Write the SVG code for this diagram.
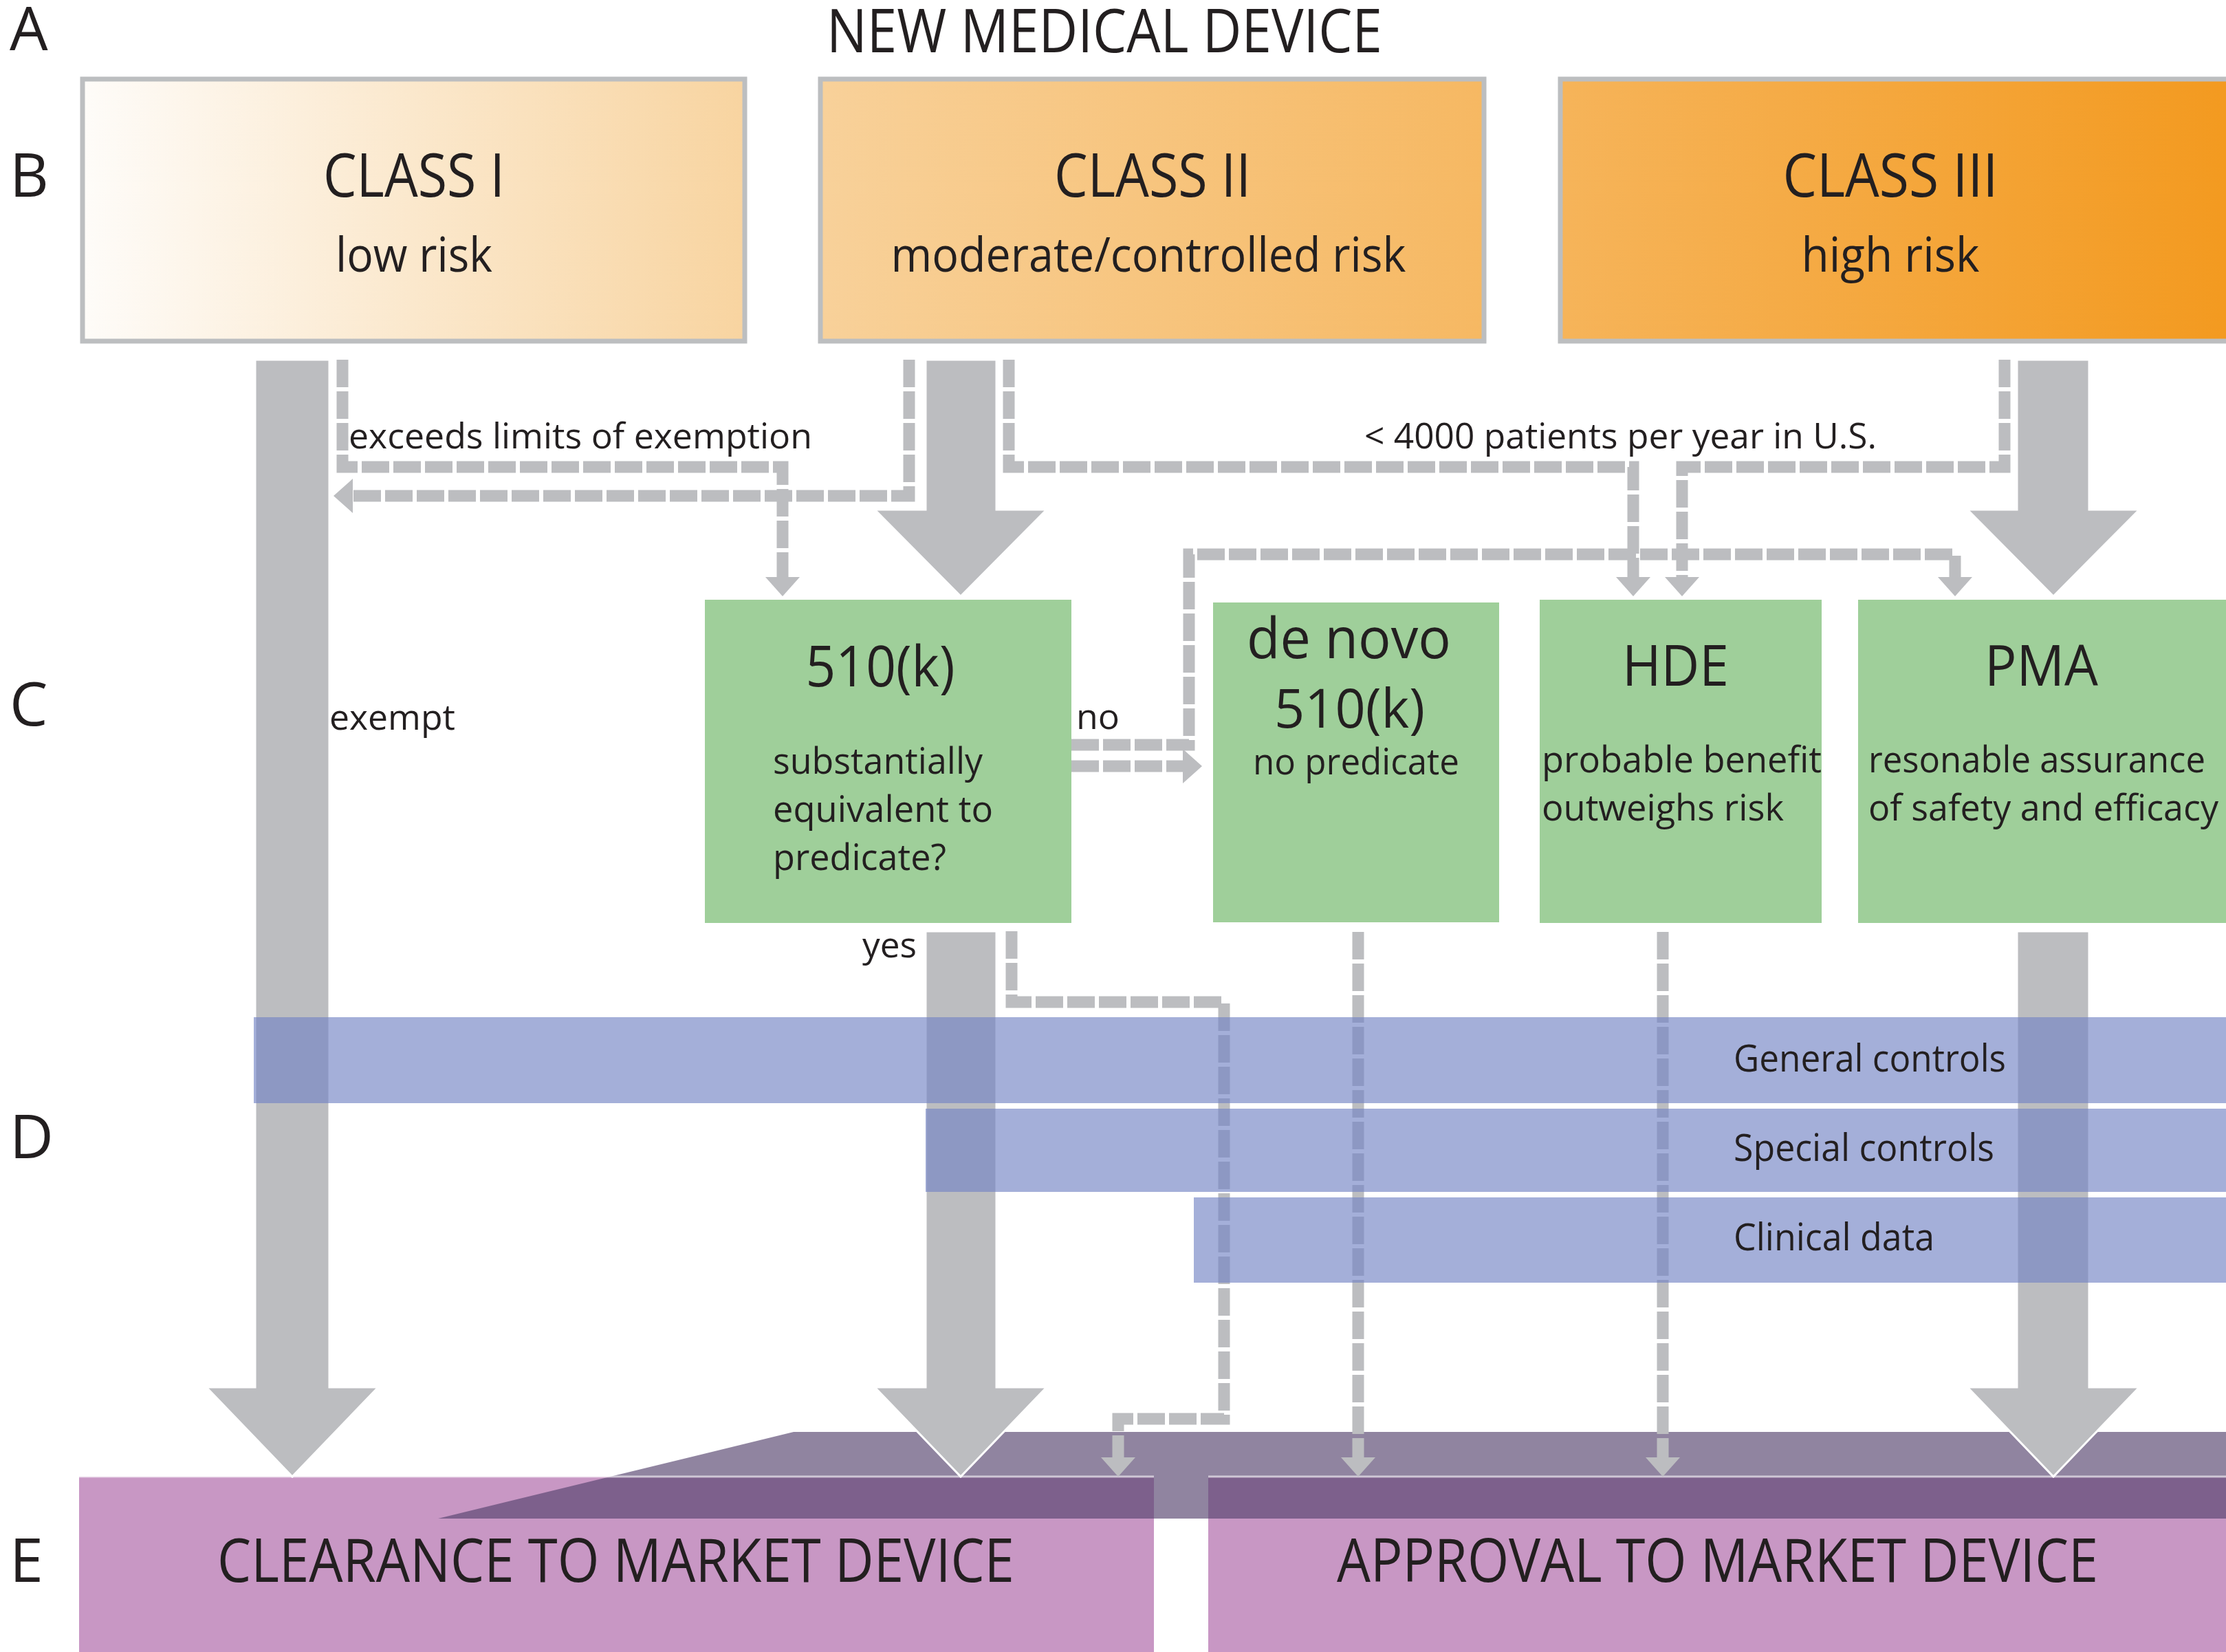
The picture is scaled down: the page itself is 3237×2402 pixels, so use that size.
<svg xmlns="http://www.w3.org/2000/svg" width="3237" height="2402" viewBox="0 0 3237 2402">
<style>
text{font-family:"Open Sans","Liberation Sans",sans-serif;fill:#231f20}
.lbl{font-size:88px}
.hd{font-size:88px}
.sub{font-size:70px}
.ttl{font-size:82px}
.body{font-size:53px}
.cl{font-size:52px}
.band{font-size:55px}
.cls{stroke:#bcbec0;stroke-width:7}
.grn{fill:#9fcf9a}
.pink{fill:#c897c4}
.bnd{fill:#7384c5;opacity:0.65}
.big{fill:#bcbdc0;stroke:#ffffff;stroke-width:3}
.dash{fill:none;stroke:#bcbdc0;stroke-width:17;stroke-dasharray:40 6;marker-end:url(#ah)}
</style>
<defs>
<linearGradient id="og" gradientUnits="userSpaceOnUse" x1="116" y1="0" x2="3237" y2="0">
<stop offset="0" stop-color="#fefcf9"/>
<stop offset="0.311" stop-color="#f8d4a0"/>
<stop offset="0.344" stop-color="#f8d19a"/>
<stop offset="0.656" stop-color="#f6b862"/>
<stop offset="0.689" stop-color="#f6b45a"/>
<stop offset="1" stop-color="#f39a20"/>
</linearGradient>
<marker id="ah" markerUnits="userSpaceOnUse" markerWidth="28" markerHeight="50" refX="0" refY="25" orient="auto" viewBox="0 0 28 50">
<path d="M0,0 L28,25 L0,50 Z" fill="#bcbdc0"/>
</marker>
</defs>
<rect x="0" y="0" width="3237" height="2402" fill="#ffffff"/>

<g id="row-labels">
<text class="lbl" x="14" y="73">A</text>
<text class="lbl" x="14" y="286">B</text>
<text class="lbl" x="14" y="1055">C</text>
<text class="lbl" x="14" y="1684">D</text>
<text class="lbl" x="14" y="2300">E</text>
</g>

<g id="title">
<text class="hd" x="1202" y="76" textLength="808" lengthAdjust="spacingAndGlyphs">NEW MEDICAL DEVICE</text>
</g>

<g id="class1">
<rect class="cls" x="120" y="115" width="963" height="381" fill="url(#og)"/>
<text class="hd" x="602" y="286" text-anchor="middle" textLength="264" lengthAdjust="spacingAndGlyphs">CLASS I</text>
<text class="sub" x="602" y="395" text-anchor="middle" textLength="228" lengthAdjust="spacingAndGlyphs">low risk</text>
</g>
<g id="class2">
<rect class="cls" x="1193" y="115" width="965" height="381" fill="url(#og)"/>
<text class="hd" x="1676" y="286" text-anchor="middle" textLength="286" lengthAdjust="spacingAndGlyphs">CLASS II</text>
<text class="sub" x="1670" y="395" text-anchor="middle" textLength="749" lengthAdjust="spacingAndGlyphs">moderate/controlled risk</text>
</g>
<g id="class3">
<rect class="cls" x="2269" y="115" width="1000" height="381" fill="url(#og)"/>
<text class="hd" x="2749" y="286" text-anchor="middle" textLength="313" lengthAdjust="spacingAndGlyphs">CLASS III</text>
<text class="sub" x="2749" y="395" text-anchor="middle" textLength="259" lengthAdjust="spacingAndGlyphs">high risk</text>
</g>

<g id="k510">
<rect class="grn" x="1025" y="872" width="533" height="470"/>
<text class="ttl" x="1280" y="998" text-anchor="middle" textLength="217" lengthAdjust="spacingAndGlyphs">510(k)</text>
<text class="body" x="1124" y="1125" textLength="305" lengthAdjust="spacingAndGlyphs">substantially</text>
<text class="body" x="1124" y="1195" textLength="320" lengthAdjust="spacingAndGlyphs">equivalent to</text>
<text class="body" x="1124" y="1265" textLength="252" lengthAdjust="spacingAndGlyphs">predicate?</text>
</g>
<g id="denovo">
<rect class="grn" x="1764" y="876" width="416" height="465"/>
<text class="ttl" x="1813" y="957" textLength="297" lengthAdjust="spacingAndGlyphs">de novo</text>
<text class="ttl" x="1853" y="1058" font-size="78" style="font-size:78px" textLength="219" lengthAdjust="spacingAndGlyphs">510(k)</text>
<text class="body" x="1822" y="1126" textLength="300" lengthAdjust="spacingAndGlyphs">no predicate</text>
</g>
<g id="hde">
<rect class="grn" x="2239" y="872" width="410" height="470"/>
<text class="ttl" x="2359" y="997" textLength="155" lengthAdjust="spacingAndGlyphs">HDE</text>
<text class="body" x="2242" y="1123" textLength="407" lengthAdjust="spacingAndGlyphs">probable benefit</text>
<text class="body" x="2242" y="1193" textLength="352" lengthAdjust="spacingAndGlyphs">outweighs risk</text>
</g>
<g id="pma">
<rect class="grn" x="2702" y="872" width="540" height="470"/>
<text class="ttl" x="2886" y="997" textLength="165" lengthAdjust="spacingAndGlyphs">PMA</text>
<text class="body" x="2717" y="1123" textLength="490" lengthAdjust="spacingAndGlyphs">resonable assurance</text>
<text class="body" x="2717" y="1193" textLength="509" lengthAdjust="spacingAndGlyphs">of safety and efficacy</text>
</g>

<g id="clearance">
<rect class="pink" x="115" y="2147" width="1563" height="260"/>
<text class="hd" x="316" y="2300" textLength="1159" lengthAdjust="spacingAndGlyphs">CLEARANCE TO MARKET DEVICE</text>
</g>
<g id="approval">
<rect class="pink" x="1757" y="2147" width="1490" height="260"/>
<text class="hd" x="1944" y="2300" textLength="1107" lengthAdjust="spacingAndGlyphs">APPROVAL TO MARKET DEVICE</text>
</g>
<g id="market-overlay">
<path d="M1154,2082 H3245 V2208 H637 Z" fill="#57456f" opacity="0.66"/>
<path d="M115,2147 H1678 M1757,2147 H3237" stroke="#ffffff" stroke-width="3" opacity="0.6"/>
</g>

<g id="connectors">
<polygon class="big" points="371,523 479,523 479,2017 550,2017 425,2147 300,2017 371,2017"/>
<polygon class="big" points="1346,523 1449,523 1449,741 1522,741 1397,867 1272,741 1346,741"/>
<polygon class="big" points="1346,1354 1449,1354 1449,2017 1522,2017 1397,2147 1272,2017 1346,2017"/>
<polygon class="big" points="2933,523 3038,523 3038,741 3111,741 2986,867 2861,741 2933,741"/>
<polygon class="big" points="2933,1354 3038,1354 3038,2017 3111,2017 2986,2147 2861,2017 2933,2017"/>
<path class="dash" d="M498,523 V679 H1138 V839"/>
<path class="dash" d="M1322,523 V721 H513"/>
<path class="dash" d="M1467,523 V679 H2375 V839"/>
<path class="dash" d="M2915,523 V679 H2446 V839"/>
<path class="dash" d="M1558,1083 H1729 V806 H2843 V839"/>
<path class="dash" d="M1558,1114 H1720"/>
<path class="dash" d="M1471,1354 V1457 H1780 V2063 H1626 V2119"/>
<path class="dash" d="M1975,1355 V2119"/>
<path class="dash" d="M2418,1355 V2119"/>
<text class="cl" x="507" y="652" textLength="674" lengthAdjust="spacingAndGlyphs">exceeds limits of exemption</text>
<text class="cl" x="1984" y="652" textLength="745" lengthAdjust="spacingAndGlyphs">&lt; 4000 patients per year in U.S.</text>
<text class="cl" x="479" y="1061" textLength="183" lengthAdjust="spacingAndGlyphs">exempt</text>
<text class="cl" x="1565" y="1060" textLength="63" lengthAdjust="spacingAndGlyphs">no</text>
<text class="cl" x="1254" y="1392" textLength="79" lengthAdjust="spacingAndGlyphs">yes</text>
</g>

<g id="general-controls">
<rect class="bnd" x="369" y="1479" width="2868" height="125"/>
<text class="band" x="2521" y="1558" textLength="396" lengthAdjust="spacingAndGlyphs">General controls</text>
</g>
<g id="special-controls">
<rect class="bnd" x="1346" y="1612" width="1891" height="121"/>
<text class="band" x="2521" y="1688" textLength="379" lengthAdjust="spacingAndGlyphs">Special controls</text>
</g>
<g id="clinical-data">
<rect class="bnd" x="1736" y="1741" width="1501" height="124"/>
<text class="band" x="2521" y="1818" textLength="292" lengthAdjust="spacingAndGlyphs">Clinical data</text>
</g>
</svg>
